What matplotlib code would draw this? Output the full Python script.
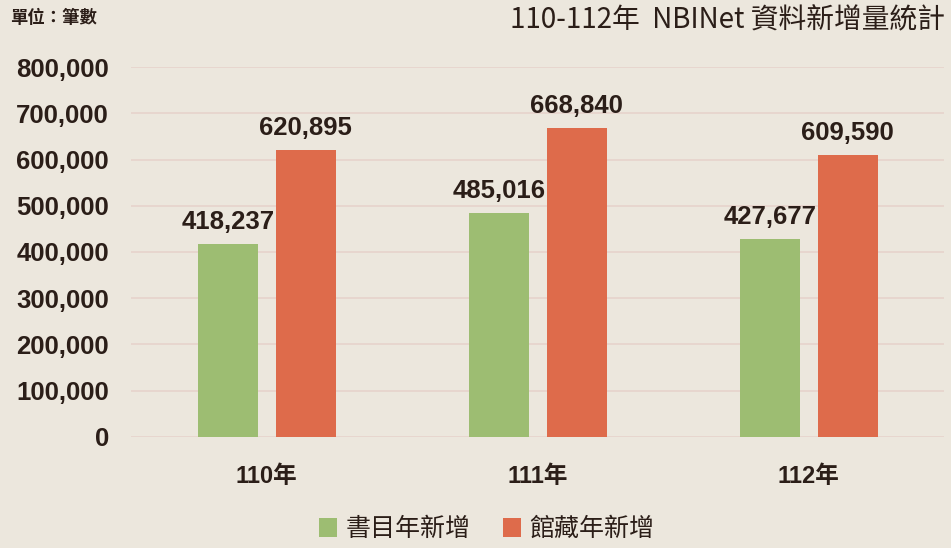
import numpy as np
import matplotlib
matplotlib.use("Agg")
import matplotlib.pyplot as plt
from matplotlib.ticker import FuncFormatter, MultipleLocator

years = ["110年", "111年", "112年"]
series_names = ["書目年新增", "館藏年新增"]
biblio_new = [418237, 485016, 427677]
holdings_new = [620895, 668840, 609590]

bg = "#ECE7DD"
green = "#9DBD72"
orange = "#DE6B4B"
ink = "#2B1E18"
fonts = ["Liberation Sans", "Noto Sans CJK TC", "DejaVu Sans"]

plt.rcParams["font.family"] = fonts

fig = plt.figure(figsize=(9.51, 5.48), dpi=100, facecolor=bg)
ax = fig.add_axes([0.138, 0.2026, 0.855, 0.6751], facecolor=bg)

x = np.arange(len(years))
w = 0.221
off = 0.144
b1 = ax.bar(x - off, biblio_new, w, color=green, label=series_names[0], zorder=3)
b2 = ax.bar(x + off, holdings_new, w, color=orange, label=series_names[1], zorder=3)

for bars in (b1, b2):
    for r in bars:
        v = r.get_height()
        ax.annotate(f"{v:,.0f}", (r.get_x() + r.get_width() / 2, v),
                    xytext=(0, 7), textcoords="offset points",
                    ha="center", va="bottom", fontsize=18.5,
                    fontweight="bold", color=ink)

ax.set_xlim(-0.5, 2.5)
ax.set_ylim(0, 800000)
ax.yaxis.set_major_locator(MultipleLocator(100000))
ax.yaxis.set_major_formatter(FuncFormatter(lambda v, p: f"{v:,.0f}"))
ax.grid(axis="y", color="#E6D3CC", linewidth=1.2, zorder=0)
ax.set_axisbelow(True)
for s in ax.spines.values():
    s.set_visible(False)
ax.tick_params(axis="both", length=0)
ax.tick_params(axis="y", pad=16, labelsize=18.5, labelcolor=ink)
for t in ax.get_yticklabels():
    t.set_fontweight("bold")
ax.set_xticks(x)
ax.set_xticklabels(years, fontsize=17, fontweight="bold", color=ink)
ax.tick_params(axis="x", pad=20)

leg = fig.legend(loc="lower center", bbox_to_anchor=(0.512, -0.03), ncol=2,
                 frameon=False, fontsize=18, handlelength=0.7, handleheight=0.8,
                 handletextpad=0.35, columnspacing=1.3)
for t in leg.get_texts():
    t.set_color(ink)
    t.set_family(["Noto Sans CJK TC", "DejaVu Sans"])

fig.text(0.011, 0.968, "單位：筆數", fontsize=12.5, fontweight="bold", color=ink,
         ha="left", va="center", family=["Noto Sans CJK TC", "DejaVu Sans"])
fig.text(0.994, 0.963, "110-112年  NBINet 資料新增量統計", fontsize=20, color=ink,
         ha="right", va="center", family=["Noto Sans CJK TC", "DejaVu Sans"])

fig.savefig("out.png", dpi=100, facecolor=bg)
